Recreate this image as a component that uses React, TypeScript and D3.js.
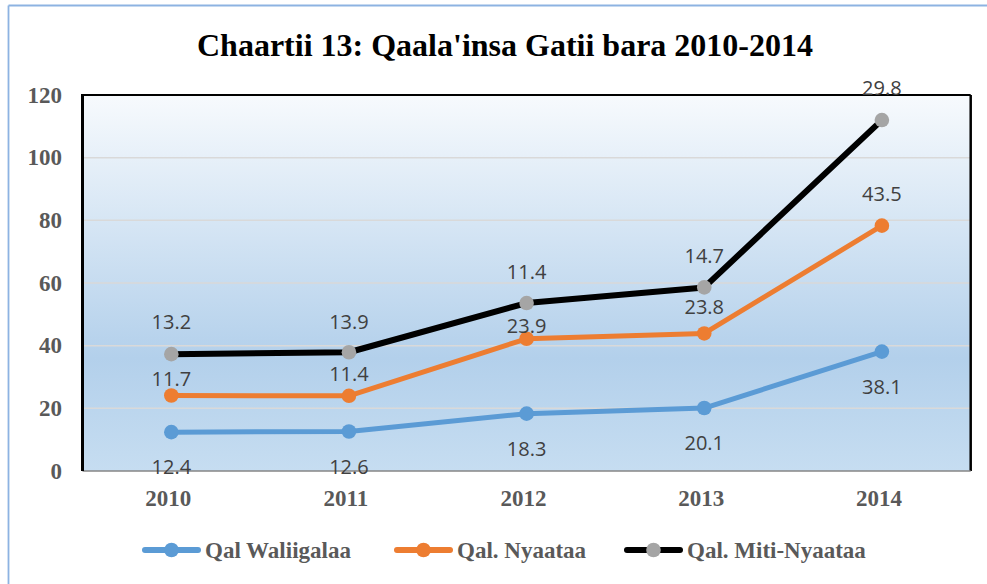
import React from "react";
import * as d3 from "d3";

const title = "Chaartii 13: Qaala'insa Gatii bara 2010-2014";
const years = ["2010", "2011", "2012", "2013", "2014"];
const seriesNames = ["Qal Waliigalaa", "Qal. Nyaataa", "Qal. Miti-Nyaataa"];
// plotted (cumulative) values
const waliigalaaPlot = [12.4, 12.6, 18.3, 20.1, 38.1];
const nyaataaPlot = [24.1, 24.0, 42.2, 43.9, 78.3];
const mitiNyaataaPlot = [37.3, 37.9, 53.6, 58.6, 112.0];
// data labels as printed
const waliigalaaLabels = ["12.4", "12.6", "18.3", "20.1", "38.1"];
const nyaataaLabels = ["11.7", "11.4", "23.9", "23.8", "43.5"];
const mitiNyaataaLabels = ["13.2", "13.9", "11.4", "14.7", "29.8"];
const yTicks = [0, 20, 40, 60, 80, 100, 120];

const W = 987;
const H = 584;
const plot = { left: 82.5, right: 970.7, top: 95, bottom: 471 };
const colors = ["#5b9bd5", "#ed7d31", "#000000"];
const markerColors = ["#5b9bd5", "#ed7d31", "#a5a5a5"];
const labelDy = [[35, 35, 35, 35, 35], [-17, -22, -13, -27, -32], [-32, -30, -31, -32, -32]];
const legendX = [143, 395, 625];

export default function App() {
  const x = d3.scaleBand().domain(years).range([plot.left, plot.right]);
  const y = d3.scaleLinear().domain([0, 120]).range([plot.bottom, plot.top]);
  const cx = (d: string) => (x(d) as number) + x.bandwidth() / 2;
  const series = [waliigalaaPlot, nyaataaPlot, mitiNyaataaPlot];
  const labels = [waliigalaaLabels, nyaataaLabels, mitiNyaataaLabels];
  const line = d3
    .line<number>()
    .x((_, i) => cx(years[i]))
    .y((v) => y(v));
  const serif = "'Liberation Serif', 'Times New Roman', serif";
  return (
    <svg
      width={W}
      height={H}
      style={{ position: "absolute", left: 0, top: 0, background: "#fff" }}
    >
      <defs>
        <linearGradient id="bg" x1="0" y1="0" x2="0" y2="1">
          <stop offset="0%" stopColor="#f7fafd" />
          <stop offset="70%" stopColor="#b3d0eb" />
          <stop offset="100%" stopColor="#c6ddf1" />
        </linearGradient>
      </defs>
      <line x1={8.5} y1={5.5} x2={W} y2={5.5} stroke="#8db3e2" strokeWidth={1.8} />
      <line x1={8.5} y1={5.5} x2={8.5} y2={H} stroke="#8db3e2" strokeWidth={1.8} />
      <text
        x={505}
        y={56}
        textAnchor="middle"
        fontFamily={serif}
        fontWeight="bold"
        fontSize={32}
        fill="#000"
      >
        {title}
      </text>
      <rect
        x={plot.left}
        y={plot.top}
        width={plot.right - plot.left}
        height={plot.bottom - plot.top}
        fill="url(#bg)"
      />
      {yTicks.slice(1, -1).map((t) => (
        <line
          key={t}
          x1={plot.left}
          x2={plot.right}
          y1={y(t)}
          y2={y(t)}
          stroke="#d9d9d9"
          strokeWidth={1.5}
        />
      ))}
      <line x1={plot.left} x2={plot.right} y1={plot.top} y2={plot.top} stroke="#000" strokeWidth={2} />
      <line x1={plot.right} x2={plot.right} y1={plot.top} y2={plot.bottom} stroke="#000" strokeWidth={2.5} />
      <line x1={plot.left} x2={plot.right} y1={plot.bottom} y2={plot.bottom} stroke="#868686" strokeWidth={1.5} />
      <line x1={plot.left} x2={plot.left} y1={plot.top - 1} y2={plot.bottom} stroke="#000" strokeWidth={3} />
      {yTicks.map((t) => (
        <text
          key={t}
          x={62}
          y={y(t)}
          dy="0.33em"
          textAnchor="end"
          fontFamily={serif}
          fontWeight="bold"
          fontSize={23}
          fill="#595959"
        >
          {t}
        </text>
      ))}
      {years.map((yr) => (
        <text
          key={yr}
          x={cx(yr) - 3}
          y={506}
          textAnchor="middle"
          fontFamily={serif}
          fontWeight="bold"
          fontSize={23}
          fill="#595959"
        >
          {yr}
        </text>
      ))}
      {series.map((s, si) => (
        <g key={si}>
          <path
            d={line(s) as string}
            fill="none"
            stroke={colors[si]}
            strokeWidth={si === 2 ? 6 : 5}
            strokeLinejoin="round"
            strokeLinecap="round"
          />
          {s.map((v, i) => (
            <circle key={i} cx={cx(years[i])} cy={y(v)} r={7.3} fill={markerColors[si]} />
          ))}
        </g>
      ))}
      {series.map((s, si) =>
        s.map((v, i) => (
          <text
            key={`${si}-${i}`}
            x={cx(years[i])}
            y={y(v) + labelDy[si][i]}
            dy="0.36em"
            textAnchor="middle"
            fontFamily="'Open Sans', 'Noto Sans', sans-serif"
            fontSize={20}
            fill="#404040"
          >
            {labels[si][i]}
          </text>
        ))
      )}
      {seriesNames.map((n, si) => (
        <g key={n} transform={`translate(${legendX[si]},550)`}>
          <line x1={2} x2={55} y1={0} y2={0} stroke={colors[si]} strokeWidth={6} strokeLinecap="round" />
          <circle cx={28.5} cy={0} r={7.3} fill={markerColors[si]} />
          <text
            x={62}
            y={8}
            fontFamily={serif}
            fontWeight="bold"
            fontSize={23}
            fill="#595959"
          >
            {n}
          </text>
        </g>
      ))}
    </svg>
  );
}
